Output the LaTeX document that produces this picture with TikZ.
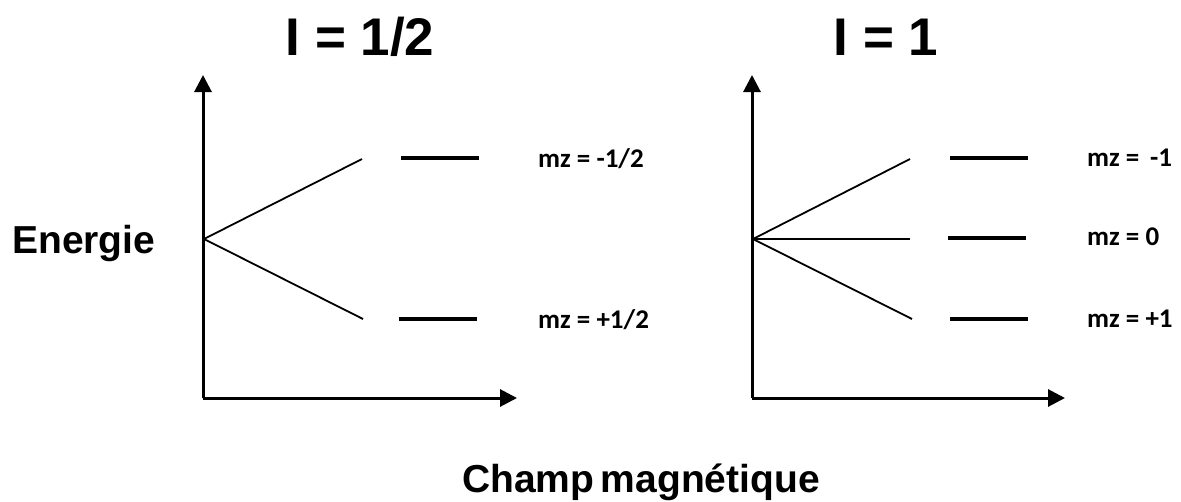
\documentclass[tikz,border=0pt]{standalone}
\usepackage{fontspec}
\setmainfont{Liberation Sans}
\newfontfamily\calfont{Carlito}
\usetikzlibrary{arrows.meta}
\begin{document}
\begin{tikzpicture}[x=1pt,y=-1pt,
  axis/.style={line width=3pt,-{Triangle[length=17pt,width=17pt]}},
  fan/.style={line width=1.8pt},
  level/.style={line width=3.4pt},
  title/.style={inner sep=0pt,anchor=base,font=\bfseries\fontsize{53}{60}\selectfont},
  big/.style={inner sep=0pt,font=\bfseries\fontsize{39}{44}\selectfont},
  mzlab/.style={inner sep=0pt,anchor=base west,font=\calfont\bfseries\fontsize{27}{30}\selectfont}]
\useasboundingbox (0,0) rectangle (1181,501);
% titles
\node[title] (t1) at (360,55) {I = 1/2};
\node[title] (t2) at (886,55) {I = 1};
\node[big,anchor=base west] (en) at (12,253) {Energie};
\node[big,anchor=base] (ch) at (641,492) {Champ\,magnétique};
% left panel
\coordinate (lo) at (203,398);
\coordinate (ly) at (203,75);
\coordinate (lx) at (517,398);
\draw[axis] (lo) -- (ly);
\draw[axis] (lo) -- (lx);
\coordinate (lf) at (204,239);
\coordinate (lu) at (362,159);
\coordinate (ld) at (363,319);
\draw[fan] (lu) -- (lf) -- (ld);
\coordinate (lu1) at (401,158); \coordinate (lu2) at (479,158);
\coordinate (ld1) at (399,319); \coordinate (ld2) at (477,319);
\draw[level] (lu1) -- (lu2);
\draw[level] (ld1) -- (ld2);
\node[mzlab] (m1) at (538,167) {mz = -1/2};
\node[mzlab] (m2) at (538,328) {mz = +1/2};
% right panel
\coordinate (ro) at (752,398);
\coordinate (ry) at (752,75);
\coordinate (rx) at (1065,398);
\draw[axis] (ro) -- (ry);
\draw[axis] (ro) -- (rx);
\coordinate (rf) at (753,239);
\coordinate (ru) at (910,159);
\coordinate (rm) at (910,239);
\coordinate (rd) at (912,319);
\draw[fan] (ru) -- (rf) -- (rd);
\draw[fan] (rf) -- (rm);
\coordinate (ru1) at (950,158); \coordinate (ru2) at (1028,158);
\coordinate (rm1) at (948,238); \coordinate (rm2) at (1026,238);
\coordinate (rd1) at (950,319); \coordinate (rd2) at (1028,319);
\draw[level] (ru1) -- (ru2);
\draw[level] (rm1) -- (rm2);
\draw[level] (rd1) -- (rd2);
\node[mzlab] (m3) at (1087,166) {mz =\, -1};
\node[mzlab] (m4) at (1087,245) {mz = 0};
\node[mzlab] (m5) at (1087,327) {mz = +1};
\end{tikzpicture}
\end{document}
